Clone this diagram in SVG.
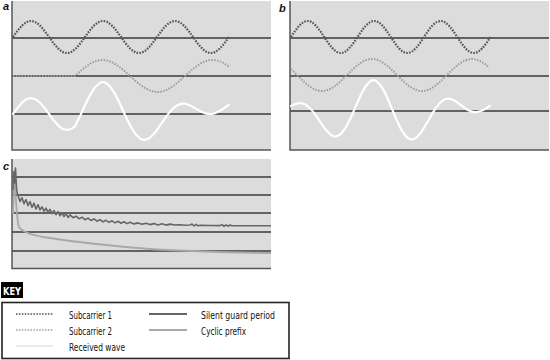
<svg xmlns="http://www.w3.org/2000/svg" width="550" height="360" viewBox="0 0 550 360">
<style>
.bg{fill:#dcdcdc;stroke:none}
.frame{fill:none;stroke:#555;stroke-width:1.5}
.axis{fill:none;stroke:#3a3a3a;stroke-width:1.5}
.s1{fill:none;stroke:#555;stroke-width:2.2;stroke-dasharray:1.6 1.3}
.s2{fill:none;stroke:#9a9a9a;stroke-width:1.9;stroke-dasharray:1.5 1.4}
.rx{fill:none;stroke:#fff;stroke-width:2.2;stroke-linejoin:round;stroke-linecap:round}
.guard{fill:none;stroke:#666;stroke-width:1.6;stroke-linejoin:round}
.cp{fill:none;stroke:#a8a8a8;stroke-width:1.8;stroke-linejoin:round}
.lbl{font-family:"Liberation Sans",Arial,sans-serif;font-weight:bold;font-style:italic;font-size:11px;fill:#111}
.kt{font-family:"DejaVu Sans Condensed","Liberation Sans",sans-serif;font-size:11px;fill:#111}
</style>

<g id="panel-a">
  <rect class="bg" x="12" y="1" width="259" height="149"/>
  <text class="lbl" x="3" y="10">a</text>
  <path class="axis" d="M12,38H271M12,76H271M12,114H271"/>
  <path class="frame" d="M12,1V150H271"/>
  <path class="s1" d="M13,37 C19.3,28.2 24.7,21 31,21 C44.08,21 53.92,53 67,53 S89.92,21 103,21 S125.92,53 139,53 S161.92,21 175,21 S197.92,53 211,53 C217.3,53 222.7,45.8 229,37"/>
  <path class="s2" d="M13,76 H75 C84.63,67.2 92.87,60 102.5,60 C122.5,60 137.5,92 157.5,92 S192.5,60 212.5,60 C218,60 223.5,62.5 229,66.6"/>
  <polyline class="rx" points="13,114 17.5,107.9 22,102.7 26.5,99.2 31,98 35.5,99.2 40,102.7 44.5,107.9 49,114 53.5,120.1 58,125.3 62.5,128.8 67,130 71.5,128.8 75,126.3 80,116.3 85,105.3 90,95.1 95,87.2 100,82.7 103,82 105,82.4 110,86.3 115,93.9 120,104 125,115 130,125.3 135,133.5 140,138.6 144,140 148,139 150,137.7 155,132.6 160,125.7 165,118.3 170,111.6 175,106.7 180,104 183,103.6 185,103.7 190,105.4 195,108.1 200,111.1 205,113.3 210,114.1 213,113.8 215,113.2 220,110.8 225,107.4 229,104.6"/>
</g>

<g id="panel-b">
  <rect class="bg" x="290" y="1" width="259" height="149"/>
  <text class="lbl" x="279" y="12">b</text>
  <path class="axis" d="M290,38H549M290,76H549M290,111H549"/>
  <path class="frame" d="M290,1V150H549"/>
  <path class="s1" d="M291,37 C296.82,28.2 301.8,21 307.63,21 C319.71,21 328.8,53 340.88,53 S362.05,21 374.13,21 S395.3,53 407.38,53 S428.55,21 440.63,21 S461.8,53 473.88,53 C479.7,53 484.68,45.8 490.5,37"/>
  <path class="s2" d="M291,69.1 C293,71 295,73 297,75 C305.75,83.8 313.25,91 322,91 C340.17,91 353.83,59 372,59 S403.83,91 422,91 S453.83,59 472,59 C477.33,59 482.67,61.9 488,66.4"/>
  <polyline class="rx" points="291,106.1 296,103.7 301,103 306,104.8 311,109.1 316,115.6 321,123.1 326,130.1 331,135 334,136.4 336,136.5 341,133.9 346,127.2 351,117.2 356,105.7 361,94.5 366,85.6 371,80.7 373.5,80.1 376,80.8 381,85.8 386,94.9 391,106.5 396,118.6 401,129.2 406,136.4 409,138.8 411,139.4 413,139.3 416,137.9 421,132.4 426,124.5 431,115.7 436,107.7 441,101.9 443.5,100.1 446,99 448.5,98.7 451,99.1 456,101.5 461,105.2 466,108.9 471,111.4 474,112.1 476,112.2 481,111 486,108.4 490,105.9"/>
</g>

<g id="panel-c">
  <rect class="bg" x="12" y="159" width="259" height="110"/>
  <text class="lbl" x="3" y="170">c</text>
  <path class="axis" d="M12,177H271M12,195H271M12,213H271M12,232H271M12,251H271"/>
  <path class="frame" d="M12,159V268.5H271"/>
  <path class="cp" d="M13,214 L14.5,171 C15.5,195 16.5,220 19,227 C23,233 35,236 50,238 C75,242 100,245 150,249 C190,251.5 230,252.5 271,253"/>
  <polyline class="guard" points="13,190 13.5,172 14.5,183 15.5,168 16.5,188 17.5,195 18,195.5 20,201.6 22,197.7 24,203.7 26,199.6 28,205.6 30,201.5 32,207.3 34,203.2 36,209 38,204.7 40,209.8 42,206.9 44,211.1 46,208.2 48,212.4 50,209.4 52,213.6 54,210.6 56,214.7 58,211.6 60,215.7 62,212.6 64,216.6 66,213.5 68,217.5 70,214.9 73,217.7 76,216.2 79,218.7 82,217.2 85,219.7 88,218.1 91,220.5 94,218.9 97,221.2 100,219.6 103,221.9 106,220.3 109,222.4 112,220.8 115,222.9 118,221.3 121,223.2 124,221.8 127,223.6 130,222.2 134,223.9 138,222.9 142,224.2 146,223.2 150,224.6 154,223.6 158,224.9 162,223.8 166,225.1 170,224.1 175,225 180,224.8 185,225.3 190,225 192,224 194,226 196,224.3 198,225.8 200,225.3 210,225.5 220,225.6 222,224.6 224,226.4 226,224.8 228,226.2 230,225 232,225.8 240,225.8 271,225.8"/>
</g>

<g id="key">
  <rect x="1" y="282" width="22" height="16" fill="#000"/>
  <text x="3" y="295" font-family="'DejaVu Sans Condensed','Liberation Sans',sans-serif" font-weight="bold" font-size="11" fill="#fff" textLength="18" lengthAdjust="spacingAndGlyphs">KEY</text>
  <rect x="2" y="302.5" width="287" height="56" fill="#fff" stroke="#222" stroke-width="1.6"/>
  <line class="s1" x1="16" y1="314" x2="53" y2="314" style="stroke-width:1.6"/>
  <line class="s2" x1="16" y1="330" x2="53" y2="330" style="stroke-width:1.4"/>
  <line x1="16" y1="346" x2="53" y2="346" stroke="#e4e4e4" stroke-width="1.5"/>
  <line x1="149" y1="314" x2="187" y2="314" stroke="#666" stroke-width="2.2"/>
  <line x1="149" y1="330" x2="187" y2="330" stroke="#a8a8a8" stroke-width="1.8"/>
  <text class="kt" x="69" y="318.5" textLength="43" lengthAdjust="spacingAndGlyphs">Subcarrier 1</text>
  <text class="kt" x="69" y="334.5" textLength="43" lengthAdjust="spacingAndGlyphs">Subcarrier 2</text>
  <text class="kt" x="69" y="350.5" textLength="56" lengthAdjust="spacingAndGlyphs">Received wave</text>
  <text class="kt" x="201" y="318.5" textLength="74" lengthAdjust="spacingAndGlyphs">Silent guard period</text>
  <text class="kt" x="201" y="334.5" textLength="45" lengthAdjust="spacingAndGlyphs">Cyclic prefix</text>
</g>
</svg>
